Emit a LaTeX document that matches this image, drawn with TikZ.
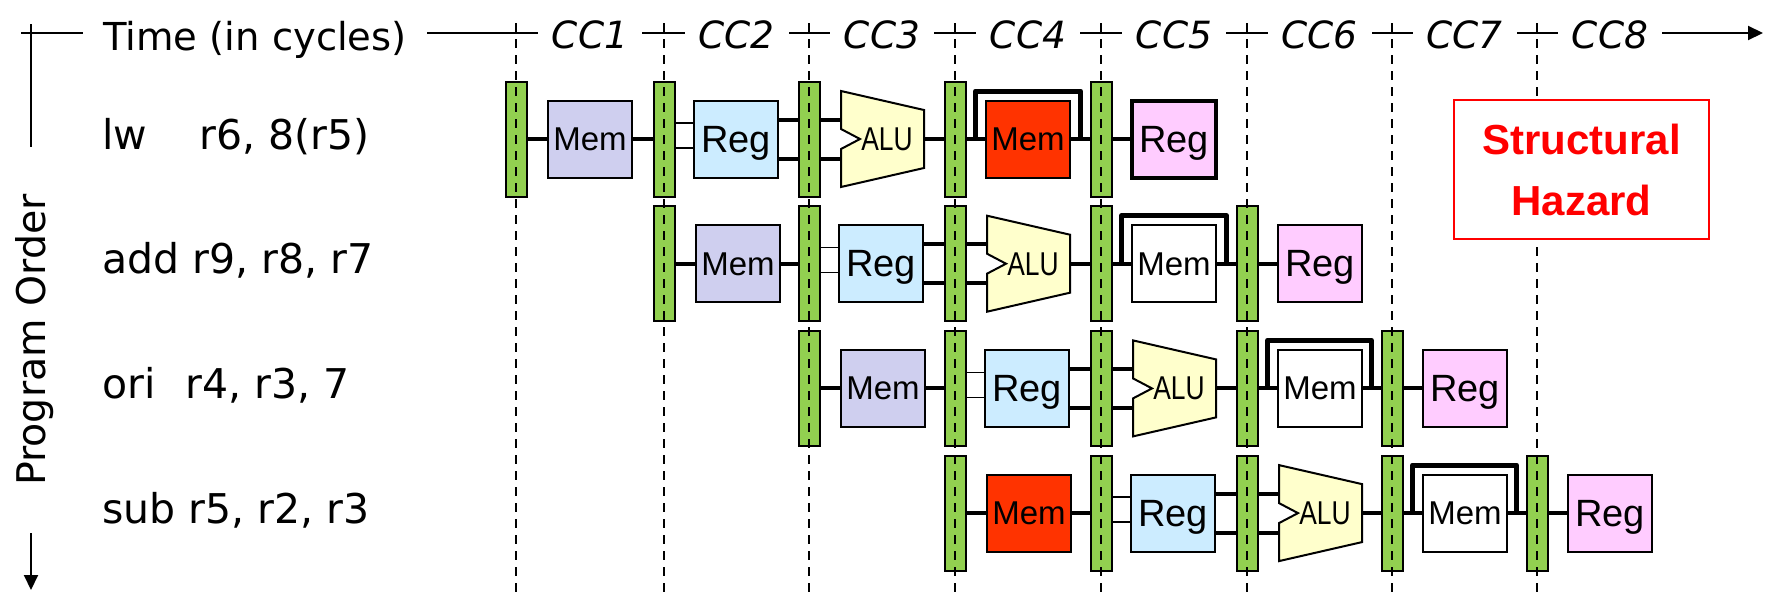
\documentclass[tikz,border=0pt]{standalone}
\usepackage{fontspec}
\setmainfont{DejaVu Sans}
\newfontfamily\arialfont{Liberation Sans}
\usetikzlibrary{arrows.meta,calc}

\definecolor{latchgreen}{RGB}{146,208,80}
\definecolor{imemblue}{RGB}{207,207,239}
\definecolor{regblue}{RGB}{204,236,255}
\definecolor{aluyellow}{RGB}{255,255,204}
\definecolor{busyred}{RGB}{255,51,0}
\definecolor{wbpink}{RGB}{255,204,255}
\definecolor{hazardred}{RGB}{255,0,0}

\begin{document}
\begin{tikzpicture}[x=1pt,y=-1pt,
  latch/.style={draw=black, line width=2pt, fill=latchgreen, minimum width=21pt,
    minimum height=115pt, inner sep=0pt, outer sep=0pt},
  unit/.style={draw=black, line width=2pt, minimum width=84pt, minimum height=77pt,
    inner sep=0pt, outer sep=0pt, text depth=0pt,
    font=\arialfont\fontsize{33}{33}\selectfont},
  regunit/.style={unit, font=\arialfont\fontsize{38}{38}\selectfont},
  alubox/.style={minimum width=83pt, minimum height=96pt, inner sep=0pt, outer sep=0pt},
  alutext/.style={inner sep=0pt, text depth=0pt, font=\arialfont\fontsize{33}{33}\selectfont},
  wire/.style={line width=4pt},
  thinwire/.style={line width=1.5pt},
  bracket/.style={line width=5pt, line join=round},
  gridline/.style={line width=1.5pt, dash pattern=on 9pt off 7pt},
  axisline/.style={line width=2pt},
  axislabel/.style={fill=white, inner xsep=0pt, inner ysep=0pt, anchor=base,
    font=\fontsize{38.5}{40}\selectfont},
  cclabel/.style={axislabel, minimum width=104pt, font=\itshape\fontsize{37.5}{40}\selectfont},
  instr/.style={anchor=base west, inner sep=0pt, font=\fontsize{41}{44}\selectfont},
  hazard/.style={draw=hazardred, line width=2pt, fill=white, minimum width=255pt,
    minimum height=139pt, align=center, text=hazardred, inner sep=0pt,
    font=\arialfont\bfseries\fontsize{42}{61}\selectfont}
]
\useasboundingbox (0,0) rectangle (1765,592);

% clock-cycle boundaries
\foreach \x [count=\k from 0] in {516,664,809,955,1101,1247,1392,1537}
  \coordinate (c\k) at (\x,0);

% time axis
\coordinate (axL) at (21,33);
\coordinate (axR) at (1763,33);
\draw[axisline, -{Triangle[length=15pt,width=14pt]}] (axL) -- (axR);
\node[axislabel, minimum width=344pt] (time) at (255,50) {Time (in cycles)};
\foreach \k [evaluate=\k as \kk using int(\k+1)] in {0,...,6}
  \node[cclabel] (cc\kk) at ($(c\k)!0.5!(c\kk)+(0,48)$) {CC\kk};
\node[cclabel] (cc8) at ($(c7)+(73,48)$) {CC8};

% program-order axis
\coordinate (poT) at (31,24);
\coordinate (poB) at (31,590);
\draw[axisline, -{Triangle[length=15pt,width=14pt]}] (poT) -- (poB);
\node[fill=white, rotate=90, anchor=base, minimum width=386pt, inner ysep=1pt,
  font=\fontsize{39.5}{40}\selectfont] (po) at (45,340) {Program Order};

% instructions
\node[instr] (i0) at (102,149) {\makebox[97pt][l]{lw}r6, 8(r5)};
\node[instr] (i1) at (102,273.7) {add r9, r8, r7};
\node[instr] (i2) at (102,398.4) {\makebox[83pt][l]{ori}r4, r3, 7};
\node[instr] (i3) at (102,523.1) {sub r5, r2, r3};

% pipeline rows
\foreach \r/\Y/\iff/\maf/\wbw in {0/139/imemblue/busyred/4, 1/263.7/imemblue/white/2,
    2/388.4/imemblue/white/2, 3/513.1/busyred/white/2} {
  \foreach \i in {0,...,4} {
    \pgfmathtruncatemacro\k{\r+\i}
    \node[latch] (b\r\i) at ($(c\k)+(0,\Y)$) {};
  }
  \pgfmathtruncatemacro\ka{\r+1}
  \pgfmathtruncatemacro\kb{\r+2}
  \pgfmathtruncatemacro\kc{\r+3}
  \pgfmathtruncatemacro\kd{\r+4}
  \node[unit, fill=\iff] (if\r) at ($(c\r)+(74,\Y)$) {Mem};
  \node[regunit, fill=regblue] (id\r) at ($(c\ka)+(72,\Y)$) {Reg};
  \node[alubox] (ex\r) at ($(c\kb)+(73.5,\Y)$) {};
  \draw[line width=2pt, fill=aluyellow]
    (ex\r.north west) -- ($(ex\r.east)+(0,-29)$) -- ($(ex\r.east)+(0,29)$)
    -- (ex\r.south west) -- ($(ex\r.west)+(0,10)$) -- ($(ex\r.west)+(19,0)$)
    -- ($(ex\r.west)+(0,-10)$) -- cycle;
  \node[alutext] (exl\r) at ($(ex\r.center)+(4.5,0)$) {\scalebox{0.8}[1]{ALU}};
  \node[unit, fill=\maf] (ma\r) at ($(c\kc)+(73,\Y)$) {Mem};
  \node[regunit, fill=wbpink, line width=\wbw pt] (wb\r) at ($(c\kd)+(73,\Y)$) {Reg};

  \draw[wire] (b\r0) -- (if\r);
  \draw[wire] (if\r) -- (b\r1);
  \draw[thinwire] ($(b\r1.east)+(0,-16)$) -- ($(id\r.west)+(0,-16)$);
  \draw[thinwire] ($(b\r1.east)+(0,9)$) -- ($(id\r.west)+(0,9)$);
  \draw[wire] ($(id\r.east)+(0,-19.5)$) -- ($(b\r2.west)+(0,-19.5)$);
  \draw[wire] ($(id\r.east)+(0,19.5)$) -- ($(b\r2.west)+(0,19.5)$);
  \draw[wire] ($(b\r2.east)+(0,-19.5)$) -- ($(ex\r.west)+(0,-19.5)$);
  \draw[wire] ($(b\r2.east)+(0,19.5)$) -- ($(ex\r.west)+(0,19.5)$);
  \draw[wire] (ex\r.east) -- (b\r3.west);
  \draw[wire] (b\r3) -- (ma\r);
  \draw[bracket] ($(b\r3.east)+(10,0)$) -- ++(0,-48) -| ($(b\r4.west)+(-10,0)$);
  \draw[wire] (ma\r) -- (b\r4);
  \draw[wire] (b\r4) -- (wb\r);
}

% cycle boundary lines
\foreach \k in {0,...,7}
  \draw[gridline] ($(c\k)+(0,23)$) -- ($(c\k)+(0,592)$);

% hazard note
\node[hazard] (hz) at (1581.5,169.5) {Structural\\Hazard};
\end{tikzpicture}
\end{document}
